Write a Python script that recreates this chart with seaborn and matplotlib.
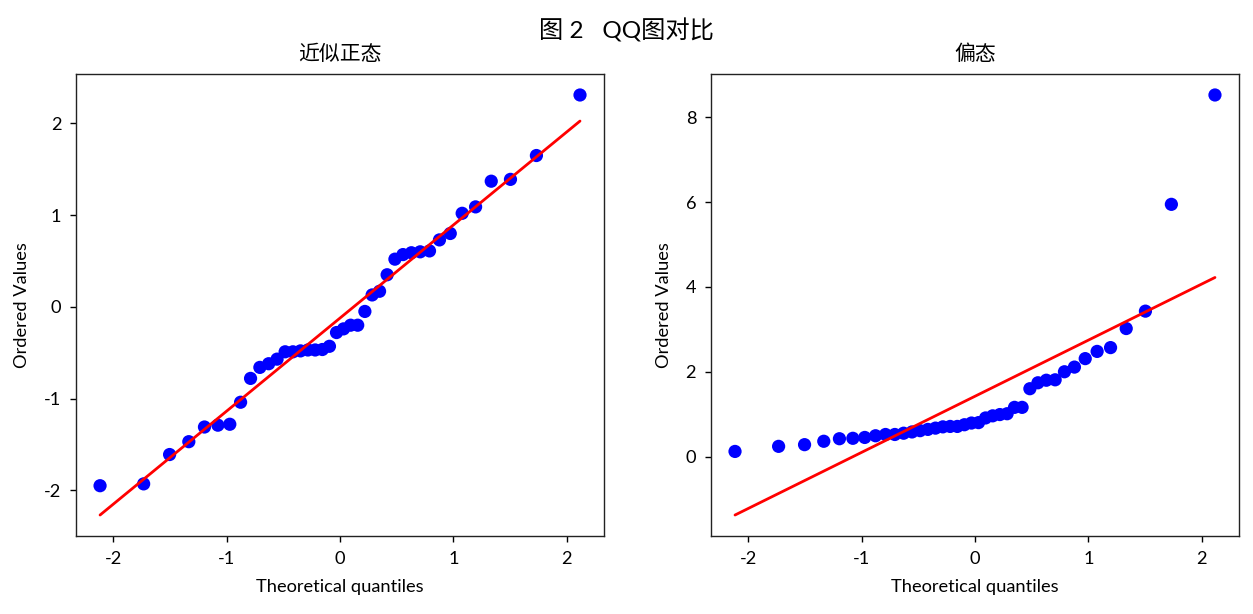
import numpy as np
import pandas as pd
import matplotlib
matplotlib.use("Agg")
import matplotlib.pyplot as plt
import seaborn as sns
from statistics import NormalDist

# ordered sample values (n = 40 each)
near_normal = [-1.95, -1.93, -1.61, -1.47, -1.31, -1.29, -1.28, -1.04, -0.78, -0.66,
               -0.62, -0.57, -0.47, -0.465, -0.47, -0.49, -0.49, -0.48, -0.43, -0.28,
               -0.24, -0.20, -0.20, -0.05, 0.13, 0.17, 0.35, 0.52, 0.57, 0.59,
               0.60, 0.61, 0.73, 0.80, 1.02, 1.09, 1.37, 1.39, 1.65, 2.31]
skewed = [0.12, 0.24, 0.28, 0.36, 0.42, 0.43, 0.45, 0.49, 0.52, 0.52,
          0.55, 0.58, 0.61, 0.64, 0.67, 0.70, 0.71, 0.71, 0.75, 0.79,
          0.80, 0.91, 0.96, 0.99, 1.01, 1.16, 1.16, 1.60, 1.74, 1.80,
          1.81, 2.00, 2.11, 2.31, 2.48, 2.57, 3.02, 3.43, 5.95, 8.53]
panel_titles = ["近似正态", "偏态"]
suptitle = "图 2   QQ图对比"


def theoretical_quantiles(n):
    # Filliben order statistic medians, as scipy.stats.probplot
    m = [(i - 0.3175) / (n + 0.365) for i in range(1, n + 1)]
    m[-1] = 0.5 ** (1.0 / n)
    m[0] = 1 - m[-1]
    nd = NormalDist()
    return np.array([nd.inv_cdf(p) for p in m])


sns.set_style("ticks")
plt.rcParams["font.family"] = ["Lato", "Noto Sans CJK SC", "DejaVu Sans"]
plt.rcParams["axes.unicode_minus"] = False
plt.rcParams["text.color"] = "black"
plt.rcParams["axes.labelcolor"] = "black"
plt.rcParams["xtick.color"] = "black"
plt.rcParams["ytick.color"] = "black"

fig, axes = plt.subplots(1, 2, figsize=(1253 / 125, 614 / 125), dpi=125)
fig.subplots_adjust(left=0.0607, right=0.9888, top=0.8795, bottom=0.127, wspace=0.2027)

for ax, vals, title in zip(axes, [near_normal, skewed], panel_titles):
    osm = theoretical_quantiles(len(vals))
    df = pd.DataFrame({"q": osm, "v": np.sort(vals)})
    slope, intercept = np.polyfit(df["q"], df["v"], 1)
    df["fit"] = slope * df["q"] + intercept
    sns.scatterplot(data=df, x="q", y="v", ax=ax, color="blue", s=58,
                    edgecolor="none", zorder=2)
    sns.lineplot(data=df, x="q", y="fit", ax=ax, color="red", linewidth=1.6, zorder=3)
    ax.set_title(title, fontsize=12, pad=8)
    ax.set_xlabel("Theoretical quantiles", fontsize=10.5, labelpad=7)
    ax.set_ylabel("Ordered Values", fontsize=10.5, labelpad=8)
    ax.tick_params(labelsize=10.5, pad=5)
    for s in ax.spines.values():
        s.set_color("#222222")

fig.suptitle(suptitle, fontsize=14, y=0.97)
fig.savefig("out.png", dpi=125)
